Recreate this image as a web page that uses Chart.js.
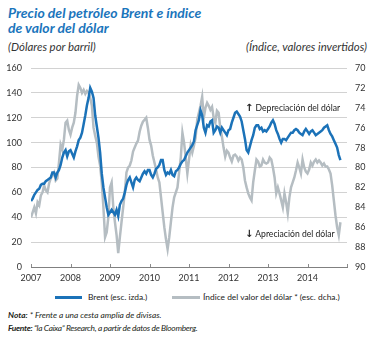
<!DOCTYPE html>
<html>
<head>
<meta charset="utf-8">
<script src="https://cdn.jsdelivr.net/npm/chart.js@4.4.1/dist/chart.umd.min.js"></script>
<style>
  html, body { margin: 0; padding: 0; background: #fff; }
  body { width: 372px; height: 338px; position: relative; overflow: hidden; font-family: Lato, "Open Sans", sans-serif; color: #231f20; }
  .abs { position: absolute; white-space: nowrap; }
  #title { left: 8px; top: 5px; font: italic 700 14px/15px Lato, sans-serif; color: #1b75bc; }
  .sub { top: 40px; font: italic 400 11.4px/14px Lato, sans-serif; color: #333; }
  #chartWrap { position: absolute; left: 0; top: 0; width: 372px; height: 290px; }
  .ann { font: 400 8.6px/10px Lato, sans-serif; color: #222; }
  .arrow { font: 700 10px/10px "DejaVu Sans", sans-serif; }
  .leg { font: 400 8.4px/10px Lato, sans-serif; color: #222; }
  .sw { position: absolute; height: 3px; }
  .note { font: italic 400 8.4px/11px Lato, sans-serif; color: #231f20; }
  .note b { font-weight: 700; }
</style>
</head>
<body>
<div id="title" class="abs">Precio del petróleo Brent e índice<br>de valor del dólar</div>
<div class="abs sub" style="left:8px;">(Dólares por barril)</div>
<div class="abs sub" style="right:5px;">(Índice, valores invertidos)</div>
<div id="chartWrap"><canvas id="c" width="372" height="290"></canvas></div>
<div class="abs ann" style="left:245px; top:103px;"><span class="arrow">↑</span> Depreciación del dólar</div>
<div class="abs ann" style="left:245px; top:229px;"><span class="arrow">↓</span> Apreciación del dólar</div>
<div class="sw" style="left:55px; top:296px; width:27px; background:#1b72b8;"></div>
<div class="abs leg" style="left:88px; top:292px;">Brent (esc. izda.)</div>
<div class="sw" style="left:172px; top:296px; width:28px; background:#b5bdc2;"></div>
<div class="abs leg" style="left:203px; top:292px;">Índice del valor del dólar * (esc. dcha.)</div>
<div class="abs note" style="left:8px; top:310px;"><b>Nota:</b> * Frente a una cesta amplia de divisas.</div>
<div class="abs note" style="left:8px; top:323px; letter-spacing:-0.3px;"><b>Fuente:</b> “la Caixa” Research, a partir de datos de Bloomberg.</div>
<script>
// Time axis: semi-monthly observations from January 2007 to end of October 2014
const startYear = 2007;
const pointsPerYear = 24;
const yearTicks = [2007, 2008, 2009, 2010, 2011, 2012, 2013, 2014];

// Brent price (USD per barrel), left scale
const brent = [
  53, 55, 58, 60, 62, 63, 66, 67, 67, 69, 70, 71, 72, 76, 76, 72, 76, 78, 82, 88, 92, 94, 89, 93,
  94, 91, 88, 93, 97, 102, 104, 108, 115, 122, 130, 136, 144, 141, 136, 122, 113, 104, 92, 75, 64, 56, 48, 42,
  44, 46, 44, 42, 46, 41, 50, 53, 55, 60, 66, 70, 72, 68, 64, 70, 72, 70, 69, 72, 75, 77, 75, 78,
  78, 74, 72, 75, 79, 80, 82, 86, 86, 78, 74, 76, 75, 78, 74, 73, 77, 78, 80, 83, 85, 86, 89, 92,
  94, 96, 98, 101, 110, 114, 118, 126, 122, 112, 108, 114, 113, 117, 118, 108, 110, 113, 112, 108, 112, 110, 108, 106,
  110, 111, 116, 120, 124, 125, 123, 121, 117, 110, 103, 94, 92, 97, 102, 106, 112, 114, 114, 111, 112, 109, 110, 109,
  111, 113, 116, 118, 115, 110, 107, 103, 100, 103, 103, 102, 104, 106, 108, 108, 110, 111, 110, 108, 107, 106, 109, 111,
  109, 107, 109, 110, 108, 106, 107, 108, 109, 110, 112, 113, 114, 110, 107, 105, 102, 99, 96, 90, 86
];

// Dollar value index (broad basket), right scale, inverted
const dollarIndex = [
  85.0, 84.5, 84.0, 84.6, 83.5, 83.8, 82.8, 82.5, 81.8, 82.3, 82.5, 81.6, 81.1, 80.8, 80.5, 81.3, 81.1, 79.5, 77.7, 78.2, 77.2, 75.5, 75.3, 76.2,
  76.7, 76.0, 75.5, 74.5, 72.8, 71.7, 72.0, 72.5, 72.2, 72.6, 72.3, 72.5, 73.0, 73.8, 76.0, 76.8, 77.5, 78.9, 79.8, 81.5, 84.0, 87.0, 86.5, 85.0,
  82.0, 81.5, 84.0, 85.5, 86.8, 88.6, 87.0, 85.5, 84.0, 82.5, 80.5, 80.0, 79.8, 79.3, 78.4, 78.0, 77.6, 77.3, 76.4, 75.8, 75.4, 75.2, 75.0, 76.0,
  77.2, 77.8, 78.8, 79.5, 80.2, 81.0, 81.5, 83.0, 84.5, 86.0, 87.2, 88.2, 87.0, 85.5, 84.0, 83.0, 82.5, 82.0, 80.5, 79.0, 76.5, 77.5, 79.0, 80.6,
  79.2, 77.8, 78.5, 77.8, 77.0, 75.2, 74.5, 73.8, 72.9, 75.0, 74.0, 73.5, 73.8, 74.2, 73.9, 75.0, 75.5, 74.3, 74.5, 76.0, 76.9, 78.0, 78.9, 78.3,
  78.5, 79.0, 79.4, 78.8, 78.7, 78.9, 79.3, 79.0, 79.2, 80.0, 81.3, 82.0, 82.6, 83.0, 83.3, 81.5, 80.3, 79.2, 79.4, 79.9, 79.8, 79.2, 79.5, 79.6,
  79.5, 79.0, 79.2, 80.0, 81.0, 82.6, 82.0, 82.6, 83.3, 84.0, 82.6, 83.5, 84.6, 83.0, 82.0, 81.5, 81.0, 80.3, 79.5, 80.0, 80.6, 79.2, 80.0, 80.4,
  80.6, 80.2, 79.5, 79.8, 79.4, 79.2, 79.5, 79.3, 79.5, 79.8, 79.6, 79.9, 79.9, 80.2, 80.6, 81.8, 83.3, 84.8, 86.0, 86.8, 85.5
];

const dates = brent.map((_, i) => startYear + i / pointsPerYear);
const brentPts = dates.map((d, i) => ({ x: d, y: brent[i] }));
const dollarPts = dates.map((d, i) => ({ x: d, y: dollarIndex[i] }));

const tickFont = { family: 'Lato', size: 9 };
const tickColor = '#333';

const innerTicks = {
  id: 'innerTicks',
  afterDraw(chart) {
    const xs = chart.scales.x;
    const ctx = chart.ctx;
    const yb = chart.chartArea.bottom;
    ctx.save();
    ctx.strokeStyle = '#8c8c8c';
    ctx.lineWidth = 1;
    xs.ticks.forEach(t => {
      const px = Math.round(xs.getPixelForValue(t.value)) + 0.5;
      ctx.beginPath();
      ctx.moveTo(px, yb);
      ctx.lineTo(px, yb - 3);
      ctx.stroke();
    });
    ctx.restore();
  }
};

new Chart(document.getElementById('c'), {
  type: 'line',
  data: {
    datasets: [
      { label: 'Brent (esc. izda.)', data: brentPts, yAxisID: 'y', borderColor: '#1b72b8', borderWidth: 2.5, pointRadius: 0, tension: 0, order: 0 },
      { label: 'Índice del valor del dólar * (esc. dcha.)', data: dollarPts, yAxisID: 'y1', borderColor: '#b5bdc2', borderWidth: 2.5, pointRadius: 0, tension: 0, order: 1 }
    ]
  },
  options: {
    responsive: false,
    animation: false,
    layout: { padding: { top: 68, left: 0, right: 0, bottom: 0 } },
    plugins: { legend: { display: false }, tooltip: { enabled: false } },
    scales: {
      x: {
        type: 'linear', min: 2007, max: 2015,
        afterBuildTicks: s => { s.ticks = yearTicks.concat([2015]).map(v => ({ value: v })); },
        ticks: { stepSize: 1, autoSkip: false, maxRotation: 0, padding: 6, font: tickFont, color: tickColor,
                 callback: v => (yearTicks.includes(v) ? String(v) : '') },
        grid: { display: false, drawTicks: false },
        border: { display: true, color: '#808080', width: 1 },
        afterFit: s => { s.height = 23; }
      },
      y: {
        position: 'left', min: 0, max: 160,
        ticks: { stepSize: 20, padding: 9, font: tickFont, color: tickColor },
        grid: { color: c => (c.tick && c.tick.value === 0 ? 'rgba(0,0,0,0)' : '#d2d2d2'), lineWidth: 1, drawTicks: false },
        border: { display: false },
        afterFit: s => { s.width = 31; }
      },
      y1: {
        position: 'right', min: 70, max: 90, reverse: true,
        ticks: { stepSize: 2, padding: 8, font: tickFont, color: tickColor },
        grid: { display: false, drawTicks: false },
        border: { display: false },
        afterFit: s => { s.width = 25; }
      }
    }
  },
  plugins: [innerTicks]
});
</script>
</body>
</html>
